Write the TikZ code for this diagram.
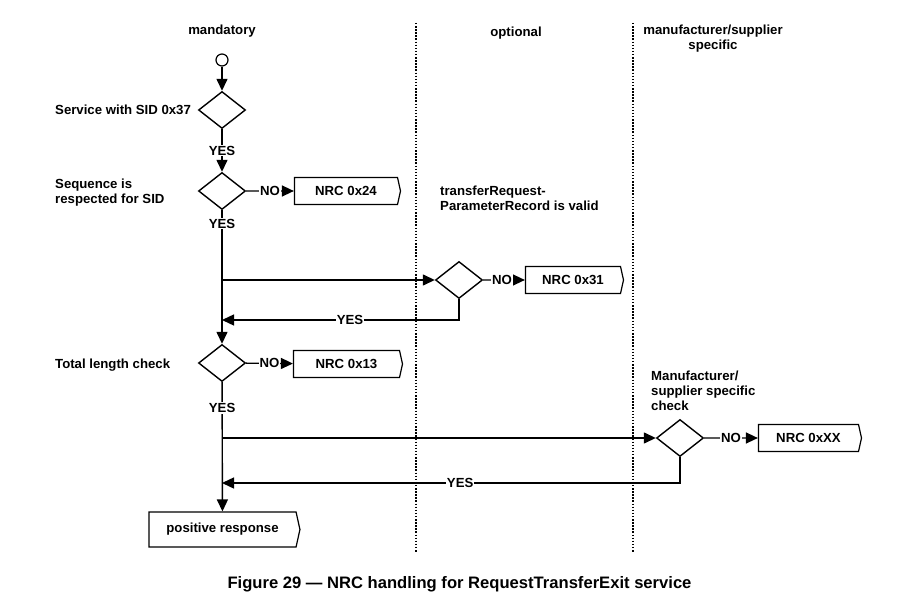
\documentclass[tikz,border=0pt]{standalone}
\usepackage{fontspec}
\setmainfont{Liberation Sans}
\usetikzlibrary{arrows.meta,shapes.geometric,shapes.symbols}

\begin{document}
\begin{tikzpicture}[x=1pt,y=-1pt,
  every node/.style={font=\fontsize{13.2}{15}\selectfont\bfseries},
  line/.style={line width=1.4pt,color=black},
  arr/.style={line,-{Triangle[length=12pt,width=11pt]}},
  lane/.style={line width=1.5pt,dash pattern=on 1.5pt off 1.6pt},
  test/.style={draw,line width=1.4pt,diamond,inner sep=0pt,minimum width=47pt,minimum height=37pt},
  nrc/.style={draw,line width=1.2pt,signal,signal to=east,signal pointer angle=155,inner sep=0pt,minimum width=106pt,minimum height=27pt},
  lbl/.style={fill=white,inner sep=1pt},
  note/.style={align=left,anchor=west,inner sep=0pt}]
\useasboundingbox (0,0) rectangle (897,612);

\coordinate (L1top) at (416,23); \coordinate (L1bot) at (416,552);
\coordinate (L2top) at (633,23); \coordinate (L2bot) at (633,552);
\draw[lane] (L1top) -- (L1bot);
\draw[lane] (L2top) -- (L2bot);

\node (hMand) at (222,31) {mandatory};
\node (hOpt) at (516,33) {optional};
\node[align=center] (hMan) at (713,39) {manufacturer/supplier\\specific};

\node[draw,circle,line width=1.2pt,minimum size=12pt,inner sep=0pt] (start) at (222,60) {};
\node[test] (d1) at (222,110) {};
\node[test] (d2) at (222,191) {};
\node[test] (d3) at (222,363) {};
\node[test] (d4) at (459,280) {};
\node[test] (d5) at (680,438) {};

\node[nrc] (n24) at (346,191) {NRC 0x24};
\node[nrc,minimum width=109pt] (n13) at (346.5,364) {NRC 0x13};
\node[nrc,minimum width=98pt] (n31) at (573,280) {NRC 0x31};
\node[nrc,minimum width=103pt] (nXX) at (808.5,438) {NRC 0xXX};
\node[nrc,minimum width=151pt,minimum height=35pt] (pos) at (222.5,529.5) {positive response};

\node[note] (t1) at (55,110) {Service with SID 0x37};
\node[note] (t2) at (55,192.5) {Sequence is\\respected for SID};
\node[note] (t3) at (55,365) {Total length check};
\node[note] (t4) at (440,198) {transferRequest-\\ParameterRecord is valid};
\node[note] (t5) at (651,391) {Manufacturer/\\supplier specific\\check};

\coordinate (br1) at (222,280);
\coordinate (jn1) at (222,320);
\coordinate (br2) at (222,438);
\coordinate (jn2) at (222,483);

\draw[arr] (start) -- (d1);
\draw[arr] (d1) -- node[lbl]{YES} (d2);
\draw[arr] (d2) -- node[lbl,pos=0.1]{YES} (d3);
\draw[arr] (d3) -- node[lbl,pos=0.2]{YES} (pos);

\draw[arr] (d2) -- node[lbl]{NO} (n24);
\draw[arr] (d3) -- node[lbl]{NO} (n13);
\draw[arr] (d4) -- node[lbl,pos=0.45]{NO} (n31);
\draw[arr] (d5) -- node[lbl]{NO} (nXX);

\draw[arr] (br1) -- (d4);
\draw[arr] (d4.south) |- node[lbl,pos=0.73]{YES} (jn1);
\draw[arr] (br2) -- (d5);
\draw[arr] (d5.south) |- node[lbl,pos=0.74]{YES} (jn2);

\node[font=\fontsize{16.6}{19}\selectfont\bfseries] (cap) at (459.5,584) {Figure 29 — NRC handling for RequestTransferExit service};
\end{tikzpicture}
\end{document}
